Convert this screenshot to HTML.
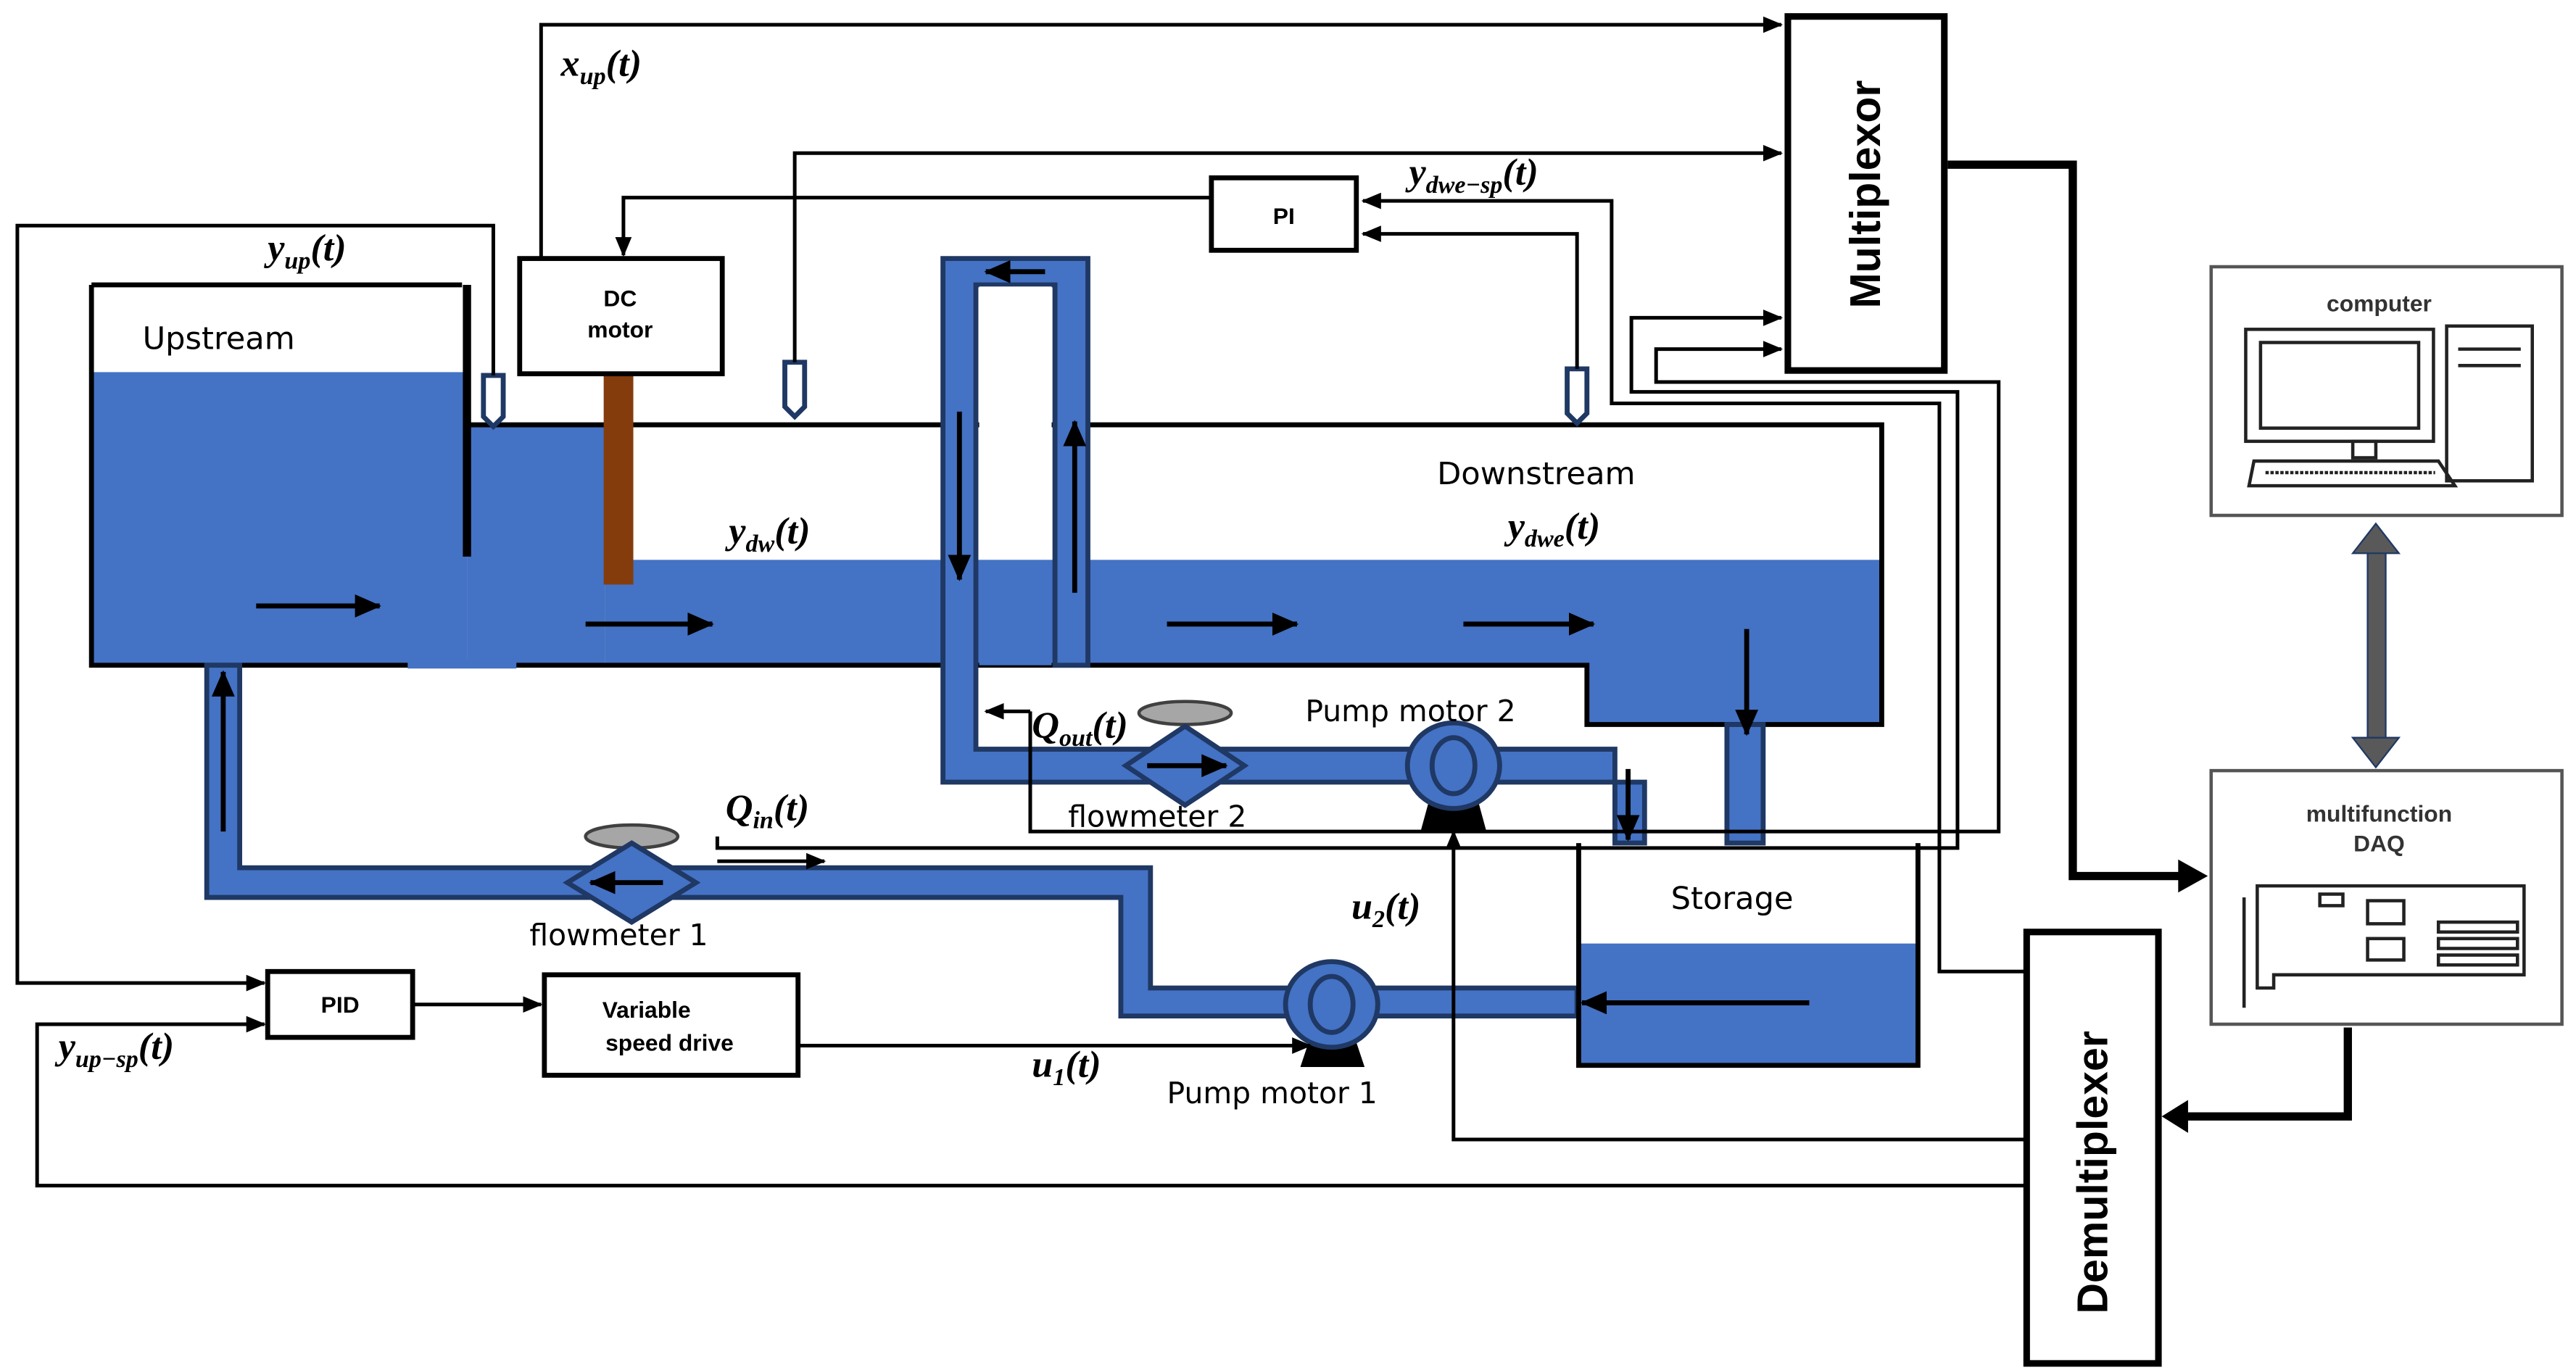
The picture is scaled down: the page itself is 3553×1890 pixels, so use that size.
<!DOCTYPE html>
<html><head><meta charset="utf-8"><style>
html,body{margin:0;padding:0;background:#fff;}
svg{display:block;}
.b{font-family:"Liberation Sans",sans-serif;font-weight:bold;}
.s{font-family:"DejaVu Sans","Liberation Sans",sans-serif;}
.m{font-family:"Liberation Serif",serif;font-weight:bold;font-style:italic;}
</style></head><body>
<svg width="3553" height="1890" viewBox="0 0 1563 832" xmlns="http://www.w3.org/2000/svg">
<defs>
<marker id="a" markerWidth="12" markerHeight="10" refX="11" refY="5" orient="auto" markerUnits="userSpaceOnUse" viewBox="0 0 12 10"><path d="M0,0 L12,5 L0,10 z" fill="#000"/></marker>
<marker id="A" markerWidth="16" markerHeight="14" refX="15" refY="7" orient="auto" markerUnits="userSpaceOnUse" viewBox="0 0 16 14"><path d="M0,0 L16,7 L0,14 z" fill="#000"/></marker>
</defs>
<rect width="1563" height="832" fill="#fff"/>

<!-- Upstream tank -->
<rect x="55" y="226" width="228" height="178" fill="#4472c4"/>
<rect x="283" y="258" width="84" height="146" fill="#4472c4"/>
<rect x="367" y="340" width="775" height="64" fill="#4472c4"/>
<rect x="963" y="400" width="179" height="40" fill="#4472c4"/>
<path d="M55,173 H280 M55,173 V404 H963 V440 H1142 V258 H283" fill="none" stroke="#000" stroke-width="3"/>
<line x1="283" y1="173" x2="283" y2="338" stroke="#000" stroke-width="5"/>
<text x="86" y="212" class="s" font-size="19">Upstream</text>
<text x="872" y="294" class="s" font-size="19">Downstream</text>
<!-- gate -->
<rect x="366" y="228" width="18" height="127" fill="#843c0c"/>
<rect x="247" y="400" width="66" height="6" fill="#4472c4"/>

<!-- inverted U pipe -->
<path d="M572,157 H660 V404 H640 V173 H592 V455 H980 V512 H998 V475 H572 Z" fill="#4472c4" stroke="#1f3864" stroke-width="3"/>
<rect x="594" y="174" width="44" height="166" fill="#fff"/>
<rect x="594" y="340" width="44" height="64" fill="#4472c4"/>
<!-- storage feed -->
<rect x="1048" y="440" width="22" height="72" fill="#4472c4" stroke="#1f3864" stroke-width="3"/>
<!-- bottom pipe -->
<path d="M125,404 H145 V527 H698 V600 H957 V617 H680 V545 H125 Z" fill="#4472c4" stroke="#1f3864" stroke-width="3"/>

<!-- storage -->
<rect x="958" y="573" width="206" height="74" fill="#4472c4"/>
<path d="M958,512 V647 H1164 V512" fill="none" stroke="#000" stroke-width="3"/>
<text x="1014" y="552" class="s" font-size="19">Storage</text>

<!-- flow arrows -->
<g stroke="#000" stroke-width="3">
<line x1="155" y1="368" x2="230" y2="368" marker-end="url(#A)"/>
<line x1="355" y1="379" x2="432" y2="379" marker-end="url(#A)"/>
<line x1="708" y1="379" x2="787" y2="379" marker-end="url(#A)"/>
<line x1="888" y1="379" x2="967" y2="379" marker-end="url(#A)"/>
<line x1="1060" y1="382" x2="1060" y2="446" marker-end="url(#A)"/>
<line x1="582" y1="250" x2="582" y2="352" marker-end="url(#A)"/>
<line x1="652" y1="360" x2="652" y2="256" marker-end="url(#A)"/>
<line x1="634" y1="165" x2="598" y2="165" marker-end="url(#A)"/>
<line x1="135" y1="505" x2="135" y2="408" marker-end="url(#A)"/>
<line x1="988" y1="467" x2="988" y2="510" marker-end="url(#A)"/>
<line x1="1098" y1="609" x2="960" y2="609" marker-end="url(#A)"/>
</g>

<!-- flowmeters -->
<ellipse cx="383" cy="508" rx="28" ry="7" fill="#a6a6a6" stroke="#404040" stroke-width="2"/>
<polygon points="383,512 422,536 383,560 344,536" fill="#4472c4" stroke="#1f3864" stroke-width="3"/>
<line x1="402" y1="536" x2="358" y2="536" stroke="#000" stroke-width="3" marker-end="url(#A)"/>
<text x="321" y="574" class="s" font-size="18">flowmeter 1</text>
<ellipse cx="719" cy="433" rx="28" ry="7" fill="#a6a6a6" stroke="#404040" stroke-width="2"/>
<polygon points="719,441 755,465 719,489 683,465" fill="#4472c4" stroke="#1f3864" stroke-width="3"/>
<line x1="696" y1="465" x2="744" y2="465" stroke="#000" stroke-width="3" marker-end="url(#A)"/>
<text x="648" y="502" class="s" font-size="18">flowmeter 2</text>

<!-- pumps -->
<polygon points="795,630 822,630 828,648 789,648" fill="#000"/>
<ellipse cx="808" cy="610" rx="28" ry="26" fill="#4472c4" stroke="#1f3864" stroke-width="3"/>
<ellipse cx="808" cy="610" rx="13" ry="17" fill="none" stroke="#1f3864" stroke-width="3"/>
<text x="708" y="670" class="s" font-size="18">Pump motor 1</text>
<polygon points="868,483 896,483 902,505 862,505" fill="#000"/>
<ellipse cx="882" cy="465" rx="28" ry="26" fill="#4472c4" stroke="#1f3864" stroke-width="3"/>
<ellipse cx="882" cy="465" rx="13" ry="17" fill="none" stroke="#1f3864" stroke-width="3"/>
<text x="792" y="438" class="s" font-size="18">Pump motor 2</text>

<!-- sensors -->
<g fill="#fff" stroke="#1f3864" stroke-width="3">
<path d="M293,228 H305 V253 L299,259 L293,253 Z"/>
<path d="M476,220 H488 V247 L482,253 L476,247 Z"/>
<path d="M951,224 H963 V251 L957,257 L951,251 Z"/>
</g>

<!-- boxes -->
<g fill="#fff" stroke="#000" stroke-width="3">
<rect x="315" y="157" width="123" height="70"/>
<rect x="735" y="108" width="88" height="44"/>
<rect x="1085" y="10" width="95" height="215" stroke-width="4"/>
<rect x="162" y="590" width="88" height="40"/>
<rect x="330" y="592" width="154" height="61"/>
<rect x="1230" y="566" width="80" height="262" stroke-width="4"/>
<rect x="1342" y="162" width="213" height="151" stroke="#555" stroke-width="2"/>
<rect x="1342" y="468" width="213" height="154" stroke="#555" stroke-width="2"/>
</g>
<text x="376" y="186" class="b" font-size="14" text-anchor="middle">DC</text>
<text x="376" y="205" class="b" font-size="14" text-anchor="middle">motor</text>
<text x="779" y="136" class="b" font-size="14" text-anchor="middle">PI</text>
<text x="206" y="615" class="b" font-size="14" text-anchor="middle">PID</text>
<text x="392" y="618" class="b" font-size="14" text-anchor="middle">Variable</text>
<text x="406" y="638" class="b" font-size="14" text-anchor="middle">speed drive</text>
<text transform="translate(1134,118) rotate(-90)" class="b" font-size="26" text-anchor="middle" dominant-baseline="middle">Multiplexor</text>
<text transform="translate(1272,712) rotate(-90)" class="b" font-size="26" text-anchor="middle" dominant-baseline="middle">Demultiplexer</text>
<text x="1444" y="189" class="b" font-size="14" text-anchor="middle" fill="#333">computer</text>
<text x="1444" y="499" class="b" font-size="14" text-anchor="middle" fill="#333">multifunction</text>
<text x="1444" y="517" class="b" font-size="14" text-anchor="middle" fill="#333">DAQ</text>

<!-- computer icon -->
<g fill="none" stroke="#222" stroke-width="2">
<rect x="1363" y="200" width="114" height="68"/>
<rect x="1372" y="208" width="96" height="52"/>
<rect x="1428" y="268" width="14" height="10"/>
<rect x="1485" y="198" width="52" height="94"/>
<line x1="1492" y1="212" x2="1530" y2="212"/><line x1="1492" y1="222" x2="1530" y2="222"/>
<path d="M1368,280 L1480,280 L1490,295 L1365,295 Z"/>
<line x1="1375" y1="287" x2="1478" y2="287" stroke-dasharray="2 1"/>
</g>
<!-- DAQ card -->
<g fill="none" stroke="#222" stroke-width="2">
<path d="M1370,538 H1532 V592 H1380 V600 H1370 Z"/>
<rect x="1408" y="543" width="14" height="7"/><rect x="1437" y="547" width="22" height="14"/>
<rect x="1437" y="570" width="22" height="13"/>
<rect x="1480" y="560" width="48" height="6"/><rect x="1480" y="570" width="48" height="6"/><rect x="1480" y="580" width="48" height="6"/>
<line x1="1362" y1="545" x2="1362" y2="612"/>
</g>

<!-- signal lines -->
<g fill="none" stroke="#000" stroke-width="2.2">
<path d="M328,157 V15 H1081" marker-end="url(#a)"/>
<path d="M299,228 V137 H10 V597 H160" marker-end="url(#a)"/>
<path d="M482,220 V93 H1081" marker-end="url(#a)"/>
<path d="M735,120 H378 V155" marker-end="url(#a)"/>
<path d="M957,224 V142 H827" marker-end="url(#a)"/>
<path d="M1230,590 H1177 V245 H978 V122 H827" marker-end="url(#a)"/>
<path d="M435,508 V515 H1188 V238 H990 V193 H1081" marker-end="url(#a)"/>
<path d="M625,432 V505 H1213 V232 H1005 V212 H1081" marker-end="url(#a)"/>
<path d="M625,432 H598" marker-end="url(#a)"/>
<path d="M435,523 H500" marker-end="url(#a)"/>
<path d="M250,610 H328" marker-end="url(#a)"/>
<path d="M484,635 H795" marker-end="url(#a)"/>
<path d="M1230,692 H882 V505" marker-end="url(#a)"/>
<path d="M1230,720 H22 V622 H160" marker-end="url(#a)"/>
</g>
<g fill="none" stroke="#000" stroke-width="5">
<path d="M1182,100 H1258 V532 H1325"/>
<path d="M1425,624 V678 H1325"/>
</g>
<path d="M1322,522 L1340,532 L1322,542 Z" fill="#000"/>
<path d="M1328,668 L1312,678 L1328,688 Z" fill="#000"/>
<!-- double arrow -->
<rect x="1437" y="334" width="11" height="116" fill="#595959" stroke="#1f3864" stroke-width="1"/>
<path d="M1428,336 L1442,318 L1456,336 Z" fill="#595959" stroke="#1f3864"/>
<path d="M1428,448 L1442,466 L1456,448 Z" fill="#595959" stroke="#1f3864"/>

<!-- math labels -->
<g class="m" font-size="23">
<text x="340" y="46">x<tspan font-size="15" dy="5">up</tspan><tspan dy="-5">(t)</tspan></text>
<text x="162" y="158">y<tspan font-size="15" dy="5">up</tspan><tspan dy="-5">(t)</tspan></text>
<text x="855" y="112">y<tspan font-size="15" dy="5">dwe−sp</tspan><tspan dy="-5">(t)</tspan></text>
<text x="442" y="330">y<tspan font-size="15" dy="5">dw</tspan><tspan dy="-5">(t)</tspan></text>
<text x="915" y="327">y<tspan font-size="15" dy="5">dwe</tspan><tspan dy="-5">(t)</tspan></text>
<text x="626" y="448">Q<tspan font-size="15" dy="5">out</tspan><tspan dy="-5">(t)</tspan></text>
<text x="440" y="498">Q<tspan font-size="15" dy="5">in</tspan><tspan dy="-5">(t)</tspan></text>
<text x="820" y="558">u<tspan font-size="15" dy="5">2</tspan><tspan dy="-5">(t)</tspan></text>
<text x="626" y="654">u<tspan font-size="15" dy="5">1</tspan><tspan dy="-5">(t)</tspan></text>
<text x="35" y="643">y<tspan font-size="15" dy="5">up−sp</tspan><tspan dy="-5">(t)</tspan></text>
</g>
</svg>
</body></html>
